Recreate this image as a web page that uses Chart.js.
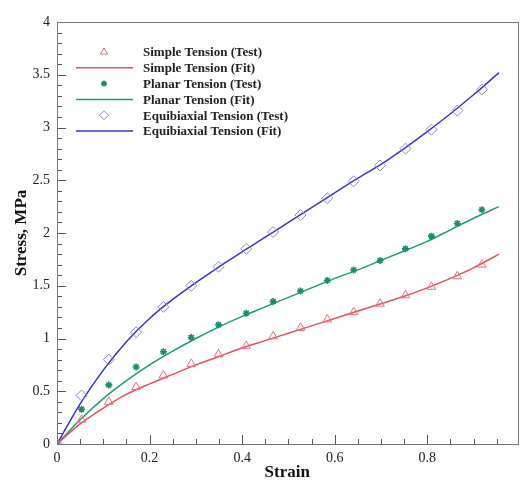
<!DOCTYPE html>
<html><head><meta charset="utf-8">
<script src="https://cdn.jsdelivr.net/npm/chart.js@4/dist/chart.umd.min.js"></script>
<style>html,body{margin:0;padding:0;background:#fff}#wrap{width:524px;height:487px}</style>
</head><body><div id="wrap"><canvas id="c" width="524" height="487"></canvas></div>
<script>
// ---- data ----
const testStrain = [0, 0.053, 0.112, 0.171, 0.23, 0.29, 0.349, 0.409, 0.467, 0.526, 0.584, 0.641, 0.698, 0.753, 0.809, 0.865, 0.918];
const simpleTest = [0, 0.23, 0.40, 0.54, 0.65, 0.76, 0.85, 0.93, 1.02, 1.10, 1.18, 1.25, 1.33, 1.41, 1.49, 1.59, 1.70];
const planarTest = [0, 0.33, 0.56, 0.73, 0.875, 1.01, 1.13, 1.24, 1.35, 1.45, 1.55, 1.65, 1.74, 1.85, 1.97, 2.09, 2.22];
const equiTest   = [0, 0.46, 0.80, 1.06, 1.30, 1.50, 1.68, 1.85, 2.01, 2.17, 2.33, 2.49, 2.64, 2.80, 2.98, 3.16, 3.36];

const fitStrain  = [0, 0.05, 0.1, 0.15, 0.2, 0.25, 0.3, 0.35, 0.4, 0.45, 0.5, 0.55, 0.6, 0.65, 0.7, 0.75, 0.8, 0.85, 0.9, 0.955];
const simpleFit  = [0, 0.19, 0.34, 0.47, 0.57, 0.66, 0.75, 0.83, 0.91, 0.98, 1.05, 1.12, 1.19, 1.26, 1.33, 1.40, 1.48, 1.57, 1.67, 1.80];
const planarFit  = [0, 0.23, 0.43, 0.60, 0.75, 0.88, 1.00, 1.11, 1.21, 1.30, 1.39, 1.48, 1.57, 1.65, 1.74, 1.83, 1.92, 2.03, 2.14, 2.25];
const equiFit    = [0, 0.38, 0.70, 0.97, 1.19, 1.37, 1.53, 1.68, 1.82, 1.96, 2.10, 2.24, 2.38, 2.52, 2.65, 2.80, 2.96, 3.13, 3.31, 3.52];

const xTickLabels = [0, 0.2, 0.4, 0.6, 0.8];
const yTickLabels = [0, 0.5, 1, 1.5, 2, 2.5, 3, 3.5, 4];
const seriesNames = ['Simple Tension (Test)', 'Simple Tension (Fit)', 'Planar Tension (Test)', 'Planar Tension (Fit)', 'Equibiaxial Tension (Test)', 'Equibiaxial Tension (Fit)'];

const pts = (xs, ys) => xs.map((x, i) => ({x: x, y: ys[i]}));

const RED = '#e8505c', RED_M = '#e8707c';
const GREEN = '#1aa070', GREEN_M = '#1a9060';
const BLUE = '#3a34c8', BLUE_M = '#8a84d8';

const serif = "'Liberation Serif', 'Times New Roman', serif";

const datasets = [
  {label: seriesNames[0], data: pts(testStrain, simpleTest), showLine: false, pointStyle: 'triangle', radius: 5, legendRadius: 4, borderColor: RED_M, backgroundColor: 'rgba(0,0,0,0)', borderWidth: 1, order: 1},
  {label: seriesNames[1], data: pts(fitStrain, simpleFit), showLine: true, pointRadius: 0, borderColor: RED, borderWidth: 1.5, cubicInterpolationMode: 'monotone', order: 2},
  {label: seriesNames[2], data: pts(testStrain, planarTest), showLine: false, pointStyle: 'star', radius: 3.5, legendRadius: 3, borderColor: GREEN_M, backgroundColor: GREEN_M, borderWidth: 1.6, order: 1},
  {label: seriesNames[3], data: pts(fitStrain, planarFit), showLine: true, pointRadius: 0, borderColor: GREEN, borderWidth: 1.5, cubicInterpolationMode: 'monotone', order: 2},
  {label: seriesNames[4], data: pts(testStrain, equiTest), showLine: false, pointStyle: 'rectRot', radius: 5.5, legendRadius: 4.5, borderColor: BLUE_M, backgroundColor: 'rgba(0,0,0,0)', borderWidth: 1, order: 1},
  {label: seriesNames[5], data: pts(fitStrain, equiFit), showLine: true, pointRadius: 0, borderColor: BLUE, borderWidth: 1.5, cubicInterpolationMode: 'monotone', order: 2}
];

const framePlugin = {
  id: 'frame',
  afterDatasetsDraw(chart) {
    const {ctx, chartArea: a, scales: {x, y}} = chart;
    ctx.save();
    ctx.strokeStyle = '#555';
    ctx.lineWidth = 1;
    ctx.beginPath();
    // x ticks (inward)
    for (let i = 0; i <= 19; i++) {
      const v = i * 0.05;
      const px = Math.round(x.getPixelForValue(v)) + 0.5;
      const len = (i % 4 === 0) ? 9 : 5;
      ctx.moveTo(px, a.bottom); ctx.lineTo(px, a.bottom - len);
    }
    for (let i = 0; i <= 40; i++) {
      const v = i * 0.1;
      const py = Math.round(y.getPixelForValue(v)) + 0.5;
      const len = (i % 5 === 0) ? 9 : 5;
      ctx.moveTo(a.left, py); ctx.lineTo(a.left + len, py);
    }
    ctx.stroke();
    ctx.strokeStyle = '#777';
    ctx.strokeRect(Math.round(a.left) + 0.5, Math.round(a.top) + 0.5, Math.round(a.right - a.left), Math.round(a.bottom - a.top));
    // legend
    const rowY0 = 52, rowH = 15.8;
    ctx.font = "bold 13px " + serif;
    ctx.textBaseline = 'middle';
    ctx.textAlign = 'left';
    chart.data.datasets.forEach((ds, i) => {
      const cy = rowY0 + i * rowH;
      if (ds.showLine) {
        ctx.strokeStyle = ds.borderColor; ctx.lineWidth = 1.5;
        ctx.beginPath(); ctx.moveTo(76, cy); ctx.lineTo(133, cy); ctx.stroke();
      } else {
        ctx.strokeStyle = ds.borderColor; ctx.fillStyle = ds.backgroundColor; ctx.lineWidth = ds.borderWidth;
        Chart.helpers.drawPoint(ctx, {pointStyle: ds.pointStyle, radius: ds.legendRadius, borderWidth: ds.borderWidth, rotation: 0}, 104, cy);
      }
      ctx.fillStyle = '#222';
      ctx.fillText(ds.label, 143, cy + 1);
    });
    ctx.restore();
  }
};

new Chart(document.getElementById('c'), {
  type: 'scatter',
  data: {datasets: datasets},
  plugins: [framePlugin],
  options: {
    responsive: false,
    animation: false,
    layout: {padding: {top: 22, right: 5, left: 0, bottom: 0}},
    plugins: {legend: {display: false}, tooltip: {enabled: false}},
    scales: {
      x: {
        type: 'linear', min: 0, max: 0.995,
        afterBuildTicks: s => { s.ticks = xTickLabels.map(v => ({value: v})); },
        afterFit: s => { s.height = 43; },
        grid: {display: false, drawTicks: false},
        border: {display: false},
        ticks: {padding: 6, color: '#222', font: {family: serif, size: 14}, callback: v => String(v)},
        title: {display: true, text: 'Strain', color: '#111', font: {family: serif, size: 17, weight: 'bold'}, padding: {top: 0, bottom: 4}}
      },
      y: {
        type: 'linear', min: 0, max: 4,
        afterBuildTicks: s => { s.ticks = yTickLabels.map(v => ({value: v})); },
        afterFit: s => { s.width = 57; },
        grid: {display: false, drawTicks: false},
        border: {display: false},
        ticks: {padding: 7, color: '#222', font: {family: serif, size: 14}, callback: v => String(v)},
        title: {display: true, text: 'Stress, MPa', color: '#111', font: {family: serif, size: 17, weight: 'bold'}, padding: {top: 11, bottom: 0}}
      }
    }
  }
});
</script></body></html>
